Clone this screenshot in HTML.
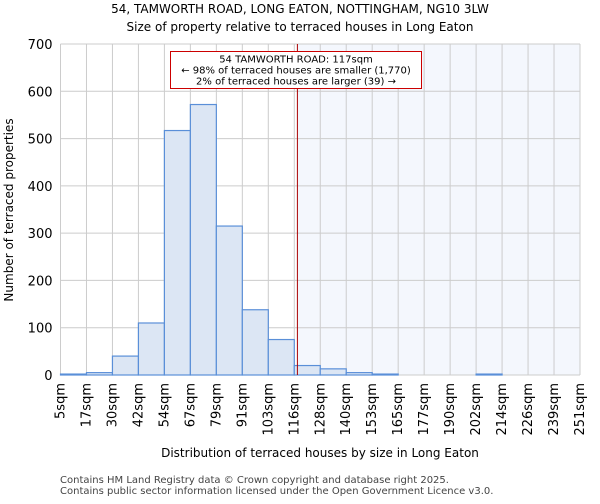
<!DOCTYPE html>
<html><head><meta charset="utf-8"><style>
body{margin:0;background:#fff;font-family:"DejaVu Sans","Liberation Sans",sans-serif}
</style></head><body>
<svg id="chart" width="600" height="500" xmlns="http://www.w3.org/2000/svg" font-family="DejaVu Sans, Liberation Sans, sans-serif">
<text x="300" y="13" text-anchor="middle" font-size="12">54, TAMWORTH ROAD, LONG EATON, NOTTINGHAM, NG10 3LW</text>
<text x="300" y="31" text-anchor="middle" font-size="12">Size of property relative to terraced houses in Long Eaton</text>
<g id="plot"></g>
<text x="320" y="457" text-anchor="middle" font-size="12">Distribution of terraced houses by size in Long Eaton</text>
<text transform="translate(13,210) rotate(-90)" text-anchor="middle" font-size="12">Number of terraced properties</text>
<text x="60" y="483" font-size="10" fill="#444">Contains HM Land Registry data © Crown copyright and database right 2025.</text>
<text x="60" y="494" font-size="10" fill="#444">Contains public sector information licensed under the Open Government Licence v3.0.</text>
</svg>
<script>
const binLabels=["5sqm","17sqm","30sqm","42sqm","54sqm","67sqm","79sqm","91sqm","103sqm","116sqm","128sqm","140sqm","153sqm","165sqm","177sqm","190sqm","202sqm","214sqm","226sqm","239sqm","251sqm"];
const counts=[2,5,40,110,517,572,315,138,75,20,13,5,2,0,0,0,2,0,0,0];
const yTicks=[0,100,200,300,400,500,600,700];
const propertyIndex=9.12;
const NS="http://www.w3.org/2000/svg";
const L=60.5,R=580,T=44,B=375,yMax=700;
const n=counts.length,bw=(R-L)/n;
const xs=i=>L+i*bw;
const ys=v=>B-(v/yMax)*(B-T);
const g=document.getElementById('plot');
function mk(t,a){const e=document.createElementNS(NS,t);for(const k in a)e.setAttribute(k,a[k]);g.appendChild(e);return e;}
const px=xs(propertyIndex);
let e=mk('rect',{x:px,y:T,width:R-px,height:B-T,fill:'#f4f7fd'});


for(let i=0;i<=n;i++){e=mk('line',{x1:xs(i),x2:xs(i),y1:T,y2:B,stroke:'#ccc','stroke-width':1});

}
yTicks.forEach(v=>{e=mk('line',{x1:L,x2:R,y1:ys(v),y2:ys(v),stroke:'#ccc','stroke-width':1});


e=mk('text',{x:L-8,y:ys(v)+5,'text-anchor':'end','font-size':13});e.textContent=v;

});
counts.forEach((c,i)=>{e=mk('rect',{x:xs(i),y:ys(c),width:bw,height:B-ys(c),fill:'#dce6f4',stroke:'#5a8fd8','stroke-width':1.2});

});
binLabels.forEach((l,i)=>{const x=xs(i)+4,y=B+8;
e=mk('text',{x:x,y:y,'text-anchor':'end','font-size':13,transform:`rotate(-90 ${x} ${y})`});e.textContent=l;

});
e=mk('line',{x1:px,x2:px,y1:T,y2:B,stroke:'#a00','stroke-width':1});


e=mk('rect',{x:170.5,y:51.5,width:251,height:37,fill:'#fff',stroke:'#c00','stroke-width':1});


["54 TAMWORTH ROAD: 117sqm","← 98% of terraced houses are smaller (1,770)","2% of terraced houses are larger (39) →"].forEach((t,i)=>{
e=mk('text',{x:296,y:62.5+i*11,'text-anchor':'middle','font-size':10});e.textContent=t;

});
</script>
</body></html>
